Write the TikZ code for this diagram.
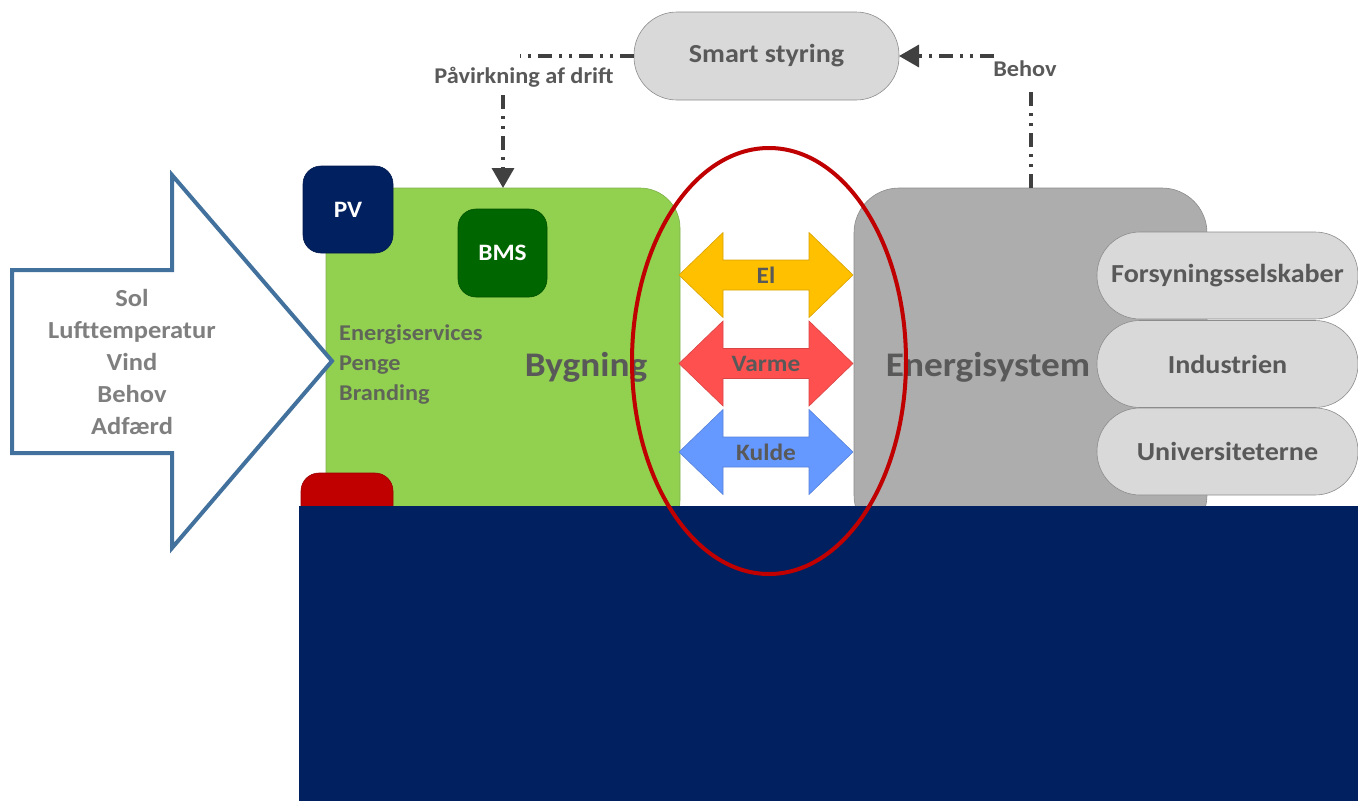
\documentclass[tikz,border=0pt]{standalone}
\usepackage{fontspec}
\setmainfont{Carlito}[FakeStretch=1.08]
\usetikzlibrary{arrows.meta}
\definecolor{navy}{HTML}{002060}
\definecolor{bgreen}{HTML}{92D050}
\definecolor{bgreenline}{HTML}{7FAF4B}
\definecolor{egray}{HTML}{ADADAD}
\definecolor{egrayline}{HTML}{8C8C8C}
\definecolor{pillgray}{HTML}{D9D9D9}
\definecolor{txtdark}{HTML}{595959}
\definecolor{txtlight}{HTML}{7F7F7F}
\definecolor{bmsgreen}{HTML}{006600}
\definecolor{darkred}{HTML}{C00000}
\definecolor{elc}{HTML}{FFC000}
\definecolor{varc}{HTML}{FF5050}
\definecolor{kulc}{HTML}{6699FF}
\definecolor{bigblue}{HTML}{41719C}
\definecolor{conncol}{HTML}{404040}
\tikzset{
  box/.style={draw, line width=0.6pt, outer sep=0pt, inner sep=0pt},
  pill/.style={box, fill=pillgray, draw=egrayline, rounded corners=43pt,
    minimum width=261pt, minimum height=87pt, text=txtdark,
    font=\fontsize{26}{30}\selectfont\bfseries},
  small/.style={box, rounded corners=18pt, text=white,
    font=\fontsize{23.5}{28}\selectfont\bfseries},
  conn/.style={draw=conncol, line width=3.5pt,
    dash pattern=on 14pt off 7pt on 3pt off 7pt on 3pt off 7pt},
  tip/.style={-{Triangle[width=22pt,length=20pt]}},
  connlbl/.style={text=txtdark, font=\fontsize{22.5}{26}\selectfont\bfseries, inner sep=1pt},
  biglbl/.style={text=txtdark, font=\fontsize{34.5}{40}\selectfont\bfseries, inner sep=0pt},
  arrowlbl/.style={text=txtdark, font=\fontsize{23.5}{28}\selectfont\bfseries, inner sep=0pt},
}
\begin{document}
\begin{tikzpicture}[x=1pt,y=-1pt]
\useasboundingbox (0,0) rectangle (1358,801);
% building and energy system
\node[box, fill=bgreen, draw=bgreenline, rounded corners=40pt,
  minimum width=354pt, minimum height=352pt] (byg) at (503,364) {};
\node[box, fill=egray, draw=egrayline, rounded corners=45pt,
  minimum width=353pt, minimum height=352pt] (ene) at (1030.5,364) {};
\node[small, fill=darkred, draw=darkred!80!black, minimum width=92pt, minimum height=60pt] (redbox) at (347,503) {};
\node[small, fill=navy, draw=navy!80!black, minimum width=90pt, minimum height=87pt] (pv) at (348,209.5) {PV};
\node[small, fill=bmsgreen, draw=bmsgreen!80!black, minimum width=89pt, minimum height=88pt] (bms) at (502.5,253) {BMS};
\node[biglbl, anchor=base] (bygtxt) at (586,376) {Bygning};
\node[biglbl, anchor=base] (enetxt) at (988,376) {Energisystem};
\node[anchor=west, align=left, text=txtdark!90!bgreen, inner sep=0pt,
  font=\fontsize{22.5}{30}\selectfont\bfseries] (servtxt) at (339,365)
  {Energiservices\\Penge\\Branding};
% pills
\node[pill] (fors) at (1227.5,275.5) {Forsyningsselskaber};
\node[pill] (ind) at (1227.5,364) {Industrien};
\node[pill] (uni) at (1227.5,451.5) {Universiteterne};
\node[pill, minimum width=265pt, minimum height=88pt] (smart) at (766.5,56) {Smart styring};
% double arrows
\foreach \yy/\col/\txt in {275/elc/El, 363.5/varc/Varme, 452/kulc/Kulde}{
  \draw[fill=\col, draw=\col!85!black, line width=0.6pt, shift={(766,\yy)}]
    (-87,0) -- (-43,-42.5) -- (-43,-15) -- (43,-15) -- (43,-42.5) -- (87,0)
    -- (43,42.5) -- (43,15) -- (-43,15) -- (-43,42.5) -- cycle;
  \node[arrowlbl] (\txt) at (766,\yy) {\txt};
}
% base
\node[fill=navy, inner sep=0pt, outer sep=0pt, minimum width=1060pt, minimum height=295pt, anchor=north west] (base) at (298.5,506) {};
% big input arrow
\draw[draw=bigblue, line width=4pt, fill=white, line join=miter]
  (12,270) -- (172,270) -- (172,175) -- (332,361) -- (172,548) -- (172,453) -- (12,453) -- cycle;
\node[align=center, text=txtlight, inner sep=0pt,
  font=\fontsize{24.5}{32}\selectfont\bfseries] (inputs) at (132,362)
  {Sol\\Lufttemperatur\\Vind\\Behov\\Adfærd};
% connectors
\node[connlbl] (lab1) at (524,77) {Påvirkning af drift};
\node[connlbl] (lab2) at (1025,69) {Behov};
\coordinate (c1) at (520,56);
\coordinate (c2) at (503,95);
\coordinate (c3) at (1031,88);
\coordinate (c4) at (994,56);
\draw[conn] (smart.west) -- (c1);
\draw[conn, tip] (c2) -- (c2 |- byg.north);
\draw[conn] (c3 |- ene.north) -- (c3);
\draw[conn, tip] (c4) -- (smart.east);
% red ellipse
\draw[darkred, line width=4pt] (769,361) ellipse [x radius=137, y radius=213];
\end{tikzpicture}
\end{document}
